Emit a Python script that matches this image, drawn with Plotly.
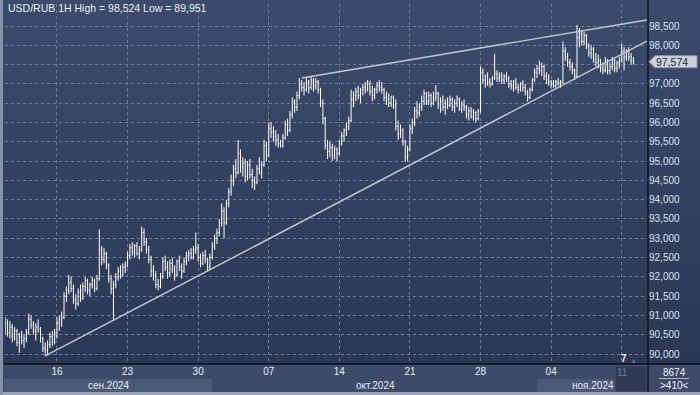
import plotly.graph_objects as go
import pandas as pd

# ---------------- data ----------------
symbol_title = "USD/RUB 1H"
x_tick_dates = ["2024-09-16", "2024-09-23", "2024-09-30", "2024-10-07", "2024-10-14",
                "2024-10-21", "2024-10-28", "2024-11-04", "2024-11-11"]
x_tick_labels = ["16", "23", "30", "07", "14", "21", "28", "04", ""]
month_labels = ["сен.2024", "окт.2024", "ноя.2024"]
y_tick_values = list(range(90000, 98501, 500))
footer_count = "8674"
footer_marker = ">410<"
corner_day = "11"
corner_mark = "7"

# 4-hour bars, Sep 10 08:00 .. Nov 11 20:00 (weekends excluded)
opens = [
    90700, 90800, 90550, 90700,
    90450, 90600, 90300, 90450, 90350, 90400,
    90550, 90900, 90750, 90600, 90700, 90650,
    90400, 90150, 90100, 90250, 90450, 90300,
    90550, 90800, 90900, 90950, 91500, 91650,
    91850, 91700, 91400, 91300, 91600, 91450,
    91750, 91900, 91650, 91800, 91900, 91700,
    91950, 92700, 92450, 92600, 92300, 91950,
    91700, 91800, 92000, 92150, 92050, 92250,
    92300, 92550, 92750, 92650, 92800, 92600,
    92700, 93150, 92900, 92700, 92450, 92150,
    92050, 91800, 91750, 92000, 92400, 92250,
    92100, 92350, 92200, 92050, 92400, 92250,
    92150, 92400, 92550, 92600, 92500, 92700,
    92750, 92500, 92350, 92550, 92450, 92250,
    92500, 92800, 93000, 93150, 93400, 93700,
    93400, 93900, 94200, 94500, 94800, 94700,
    95200, 94850, 94950, 94600, 94900, 94650,
    94500, 94450, 94800, 94700, 94900, 95400,
    95150, 95850, 95750, 95650, 95550, 95450,
    95400, 95600, 95950, 95800, 96200, 96550,
    96400, 96700, 97000, 96900, 96850, 97050,
    96900, 97100, 96950, 97050, 96850, 96500,
    96100, 95400, 95250, 95350, 95150, 95300,
    95200, 95450, 95650, 95800, 95900, 96050,
    96600, 96700, 96800, 96700, 96850, 96900,
    96850, 97000, 96800, 96700, 96850, 96950,
    96900, 96850, 96650, 96600, 96500, 96650,
    96450, 95900, 95700, 95800, 95500, 95100,
    95300, 95850, 96000, 96300, 96250, 96400,
    96550, 96750, 96550, 96700, 96500, 96650,
    96750, 96450, 96550, 96400, 96500, 96450,
    96600, 96400, 96500, 96600, 96350, 96450,
    96400, 96200, 96300, 96150, 96250, 96100,
    96300, 97300, 97100, 97200, 97050, 97000,
    97150, 97250, 97150, 97200, 97100, 97200,
    97150, 97000, 96950, 97050, 96900, 96850,
    97000, 96900, 96800, 96650, 96850, 97100,
    97300, 97400, 97350, 97450, 97200, 97100,
    97050, 97000, 96950, 97050, 97000, 97050,
    97850, 97700, 97550, 97450, 97350, 97200,
    98200, 98300, 98100, 98250, 98000, 97800,
    97900, 97650, 97550, 97600, 97400, 97350,
    97600, 97350, 97450, 97600, 97400, 97550,
    97600, 97850, 97700, 97850, 97700, 97600,
]
highs = [
    90950, 90900, 90850, 90780,
    90700, 90650, 90550, 90600, 90500, 90650,
    91050, 91000, 90850, 90800, 90900, 90700,
    90450, 90300, 90350, 90550, 90600, 90650,
    90950, 91000, 91100, 91600, 91750, 92050,
    92000, 91800, 91550, 91700, 91800, 91850,
    92000, 91950, 91850, 92000, 91950, 92050,
    93230, 92800, 92750, 92650, 92350, 92050,
    91900, 92100, 92250, 92300, 92350, 92400,
    92650, 92850, 92900, 92850, 92900, 92800,
    93300, 93250, 93000, 92800, 92550, 92300,
    92150, 91950, 92100, 92500, 92550, 92400,
    92450, 92500, 92300, 92450, 92550, 92350,
    92500, 92650, 92700, 92750, 92800, 93150,
    92850, 92600, 92650, 92700, 92500, 92600,
    92900, 93100, 93250, 93500, 93900, 93800,
    94000, 94300, 94650, 94900, 95050, 95550,
    95300, 95100, 95050, 95000, 95050, 94800,
    94600, 94900, 95100, 95000, 95550, 95500,
    96000, 96000, 95900, 95800, 95700, 95550,
    95700, 96050, 96100, 96300, 96650, 96600,
    96800, 97150, 97100, 97050, 97150, 97100,
    97190, 97150, 97150, 97100, 96900, 96600,
    96150, 95550, 95500, 95450, 95400, 95350,
    95550, 95750, 95850, 96000, 96150, 96850,
    96800, 96900, 96950, 96900, 97000, 97050,
    97100, 97080, 96950, 96900, 97050, 97100,
    97050, 96900, 96800, 96750, 96700, 96700,
    96600, 96050, 95950, 95850, 95550, 95400,
    95950, 96100, 96400, 96550, 96500, 96700,
    96850, 96800, 96800, 96750, 96800, 96970,
    96800, 96650, 96700, 96600, 96650, 96700,
    96650, 96600, 96700, 96650, 96550, 96600,
    96450, 96400, 96400, 96350, 96300, 96350,
    97450, 97400, 97250, 97300, 97150, 97200,
    97780, 97350, 97300, 97300, 97250, 97300,
    97200, 97100, 97100, 97150, 97000, 97050,
    97100, 97000, 96850, 96900, 97150, 97400,
    97500, 97600, 97550, 97500, 97300, 97250,
    97100, 97100, 97100, 97150, 97100, 98100,
    97950, 97800, 97650, 97550, 97400, 98524,
    98450, 98400, 98350, 98300, 98050, 98000,
    97950, 97800, 97750, 97650, 97550, 97700,
    97650, 97550, 97700, 97650, 97600, 97700,
    98050, 97950, 97900, 97950, 97800, 97700,
]
lows = [
    90500, 90450, 90400, 90300,
    90350, 90200, 90030, 90250, 90150, 90300,
    90500, 90650, 90500, 90350, 90550, 90300,
    90050, 89951, 90000, 90150, 90200, 90250,
    90400, 90600, 90700, 90900, 91350, 91550,
    91600, 91300, 91150, 91250, 91350, 91400,
    91600, 91550, 91500, 91700, 91600, 91650,
    91900, 92300, 92350, 92200, 91850, 91550,
    90890, 91700, 91900, 91950, 92000, 92100,
    92250, 92450, 92550, 92500, 92550, 92450,
    92650, 92800, 92600, 92350, 92000, 91900,
    91700, 91650, 91700, 91950, 92150, 91950,
    92000, 92100, 91900, 92000, 92150, 91950,
    92100, 92300, 92400, 92450, 92450, 92600,
    92400, 92250, 92300, 92350, 92150, 92200,
    92450, 92700, 92850, 93050, 93300, 93000,
    93350, 93800, 94100, 94350, 94550, 94650,
    94700, 94600, 94450, 94500, 94550, 94300,
    94250, 94400, 94650, 94550, 94850, 95000,
    95100, 95600, 95500, 95400, 95350, 95350,
    95350, 95550, 95650, 95750, 96100, 96250,
    96300, 96600, 96800, 96700, 96800, 96750,
    96850, 96800, 96850, 96750, 96400, 95950,
    95300, 95050, 95100, 95000, 95050, 95000,
    95150, 95400, 95500, 95650, 95800, 96000,
    96400, 96550, 96600, 96500, 96700, 96750,
    96800, 96700, 96550, 96600, 96750, 96800,
    96750, 96550, 96450, 96400, 96400, 96350,
    95800, 95550, 95600, 95400, 94970, 95000,
    95250, 95700, 95900, 96100, 96150, 96300,
    96450, 96450, 96450, 96400, 96450, 96550,
    96350, 96250, 96300, 96200, 96350, 96400,
    96300, 96250, 96400, 96300, 96250, 96300,
    96100, 96050, 96100, 96050, 96000, 96050,
    96250, 97000, 96900, 96950, 96900, 96950,
    97100, 97050, 97050, 97000, 97000, 97050,
    96900, 96850, 96800, 96850, 96750, 96800,
    96800, 96700, 96540, 96600, 96800, 97050,
    97150, 97250, 97200, 97100, 97000, 96950,
    96900, 96900, 96900, 96950, 96900, 97000,
    97600, 97450, 97350, 97250, 97100, 97150,
    97950, 98000, 98000, 97900, 97700, 97650,
    97550, 97450, 97400, 97300, 97250, 97300,
    97250, 97250, 97350, 97300, 97300, 97400,
    97550, 97350, 97600, 97600, 97500, 97500,
]
closes = [
    90800, 90550, 90700, 90450,
    90600, 90300, 90450, 90350, 90400, 90550,
    90900, 90750, 90600, 90700, 90650, 90400,
    90150, 90100, 90250, 90450, 90300, 90550,
    90800, 90900, 90950, 91500, 91650, 91850,
    91700, 91400, 91300, 91600, 91450, 91750,
    91900, 91650, 91800, 91900, 91700, 91950,
    92700, 92450, 92600, 92300, 91950, 91700,
    91800, 92000, 92150, 92050, 92250, 92300,
    92550, 92750, 92650, 92800, 92600, 92700,
    93150, 92900, 92700, 92450, 92150, 92050,
    91800, 91750, 92000, 92400, 92250, 92100,
    92350, 92200, 92050, 92400, 92250, 92150,
    92400, 92550, 92600, 92500, 92700, 92750,
    92500, 92350, 92550, 92450, 92250, 92500,
    92800, 93000, 93150, 93400, 93700, 93400,
    93900, 94200, 94500, 94800, 94700, 95200,
    94850, 94950, 94600, 94900, 94650, 94500,
    94450, 94800, 94700, 94900, 95400, 95150,
    95850, 95750, 95650, 95550, 95450, 95400,
    95600, 95950, 95800, 96200, 96550, 96400,
    96700, 97000, 96900, 96850, 97050, 96900,
    97100, 96950, 97050, 96850, 96500, 96100,
    95400, 95250, 95350, 95150, 95300, 95200,
    95450, 95650, 95800, 95900, 96050, 96600,
    96700, 96800, 96700, 96850, 96900, 96850,
    97000, 96800, 96700, 96850, 96950, 96900,
    96850, 96650, 96600, 96500, 96650, 96450,
    95900, 95700, 95800, 95500, 95100, 95300,
    95850, 96000, 96300, 96250, 96400, 96550,
    96750, 96550, 96700, 96500, 96650, 96750,
    96450, 96550, 96400, 96500, 96450, 96600,
    96400, 96500, 96600, 96350, 96450, 96400,
    96200, 96300, 96150, 96250, 96100, 96300,
    97300, 97100, 97200, 97050, 97000, 97150,
    97250, 97150, 97200, 97100, 97200, 97150,
    97000, 96950, 97050, 96900, 96850, 97000,
    96900, 96800, 96650, 96850, 97100, 97300,
    97400, 97350, 97450, 97200, 97100, 97050,
    97000, 96950, 97050, 97000, 97050, 97850,
    97700, 97550, 97450, 97350, 97200, 98200,
    98300, 98100, 98250, 98000, 97800, 97900,
    97650, 97550, 97600, 97400, 97350, 97600,
    97350, 97450, 97600, 97400, 97550, 97600,
    97850, 97700, 97850, 97700, 97600, 97574,
]

# trend lines (wedge)
upper_trend_x = ["2024-10-09 08:24", "2024-11-12 18:40"]
upper_trend_y = [97153, 98655]
lower_trend_x = ["2024-09-13 04:00", "2024-11-12 18:40"]
lower_trend_y = [89951, 98111]

# ---------------- timestamps ----------------
trading_days = pd.bdate_range("2024-09-10", "2024-11-11")
times = []
for i, day in enumerate(trading_days):
    hours = [8, 12, 16, 20] if i == 0 else [0, 4, 8, 12, 16, 20]
    for h in hours:
        times.append(day + pd.Timedelta(hours=h))
n = min(len(times), len(opens), len(highs), len(lows), len(closes))
times = times[:n]

# ---------------- layout helpers ----------------
W, H = 700, 395
ML, MR, MT, MB = 5, 52, 4, 31
PW, PH = W - ML - MR, H - MT - MB
Y_LO, Y_HI = 89741, 99070


def px(X):
    return (X - ML) / PW


def py(Y):
    return (H - MB - Y) / PH


FONT = "Liberation Sans, Arial, sans-serif"
last = closes[n - 1]

# y tick texts (the one hidden under the last-price tag is left blank)
y_tick_text = ["" if abs(v - last) < 200 else f"{v:,}" for v in y_tick_values]

fig = go.Figure()
fig.add_trace(go.Ohlc(
    x=times, open=opens[:n], high=highs[:n], low=lows[:n], close=closes[:n],
    increasing_line_color="#ffffff", decreasing_line_color="#ffffff",
    line_width=1, tickwidth=0.35, hoverinfo="skip", showlegend=False,
))
fig.add_trace(go.Scatter(x=upper_trend_x, y=upper_trend_y, mode="lines",
                         line=dict(color="#c4c8d0", width=1.4), hoverinfo="skip",
                         showlegend=False))
fig.add_trace(go.Scatter(x=lower_trend_x, y=lower_trend_y, mode="lines",
                         line=dict(color="#c4c8d0", width=1.4), hoverinfo="skip",
                         showlegend=False))

shapes = []
# vertical background gradient
top_rgb = (60, 75, 107)
bot_rgb = (43, 56, 85)
nb = 30
for k in range(nb):
    t = k / (nb - 1)
    c = tuple(int(round(top_rgb[j] + (bot_rgb[j] - top_rgb[j]) * t)) for j in range(3))
    y_top = k * (H - MB) / nb
    y_bot = (k + 1) * (H - MB) / nb + 0.6
    shapes.append(dict(type="rect", xref="paper", yref="paper",
                       x0=px(0), x1=px(W), y0=py(y_bot), y1=py(y_top),
                       fillcolor="rgb(%d,%d,%d)" % c, line_width=0, layer="below"))
# bottom axis area
shapes.append(dict(type="rect", xref="paper", yref="paper", x0=px(0), x1=px(W),
                   y0=py(H), y1=py(H - MB), fillcolor="#3e4b68", line_width=0, layer="below"))
# month bands (lighter for Sep and Nov)
shapes.append(dict(type="rect", xref="paper", yref="paper", x0=px(4), x1=px(212),
                   y0=py(392), y1=py(379), fillcolor="#4b5977", line_width=0, layer="below"))
shapes.append(dict(type="rect", xref="paper", yref="paper", x0=px(537), x1=px(615),
                   y0=py(392), y1=py(379), fillcolor="#4b5977", line_width=0, layer="below"))
# dark box for current day
shapes.append(dict(type="rect", xref="paper", yref="paper", x0=px(615), x1=px(647),
                   y0=py(392), y1=py(366), fillcolor="#2f3a55",
                   line=dict(color="#46526d", width=1), layer="below"))
# bottom-right box
shapes.append(dict(type="rect", xref="paper", yref="paper", x0=px(648), x1=px(W),
                   y0=py(392), y1=py(H - MB), fillcolor="#3e4b68", line_width=0, layer="below"))
shapes.append(dict(type="line", xref="paper", yref="paper", x0=px(659), x1=px(689),
                   y0=py(378.5), y1=py(378.5), line=dict(color="#aeb7c8", width=1), layer="below"))
# bottom & left frame
shapes.append(dict(type="rect", xref="paper", yref="paper", x0=px(0), x1=px(W),
                   y0=py(H), y1=py(392), fillcolor="#9aa4b6", line_width=0, layer="below"))
shapes.append(dict(type="rect", xref="paper", yref="paper", x0=px(0), x1=px(3),
                   y0=py(H), y1=py(0), fillcolor="#8892a6", line_width=0, layer="below"))
# black separators
shapes.append(dict(type="line", xref="paper", yref="paper", x0=px(648), x1=px(648),
                   y0=py(392), y1=py(0), line=dict(color="#0a0f1a", width=1.3), layer="above"))
shapes.append(dict(type="line", xref="paper", yref="paper", x0=px(4), x1=px(W),
                   y0=py(H - MB), y1=py(H - MB), line=dict(color="#0a0f1a", width=1.3), layer="above"))
# last price tag
half = 6 / PH * (Y_HI - Y_LO)
shapes.append(dict(type="path", xref="paper", yref="y",
                   path="M %f,%f L %f,%f L %f,%f L %f,%f L %f,%f Z" % (
                       px(649), last, px(655), last + half, px(697), last + half,
                       px(697), last - half, px(655), last - half),
                   fillcolor="#cdd2da", line=dict(color="#9098a8", width=1), layer="above"))

annotations = [
    dict(x=px(6), y=py(8), xref="paper", yref="paper", xanchor="left", yanchor="middle",
         text="%s High = %s Low = %s" % (symbol_title, f"{max(highs):,}", f"{min(lows):,}"),
         showarrow=False, font=dict(family=FONT, size=10.5, color="#e8edf5")),
    dict(x=px(654), y=last, xref="paper", yref="y", xanchor="left", yanchor="middle",
         text=f"{last:,}", showarrow=False, font=dict(family=FONT, size=10.5, color="#1c2840")),
    dict(x=px(109), y=py(385.5), xref="paper", yref="paper", xanchor="center", yanchor="middle",
         text=month_labels[0], showarrow=False, font=dict(family=FONT, size=10, color="#e4eaf4")),
    dict(x=px(375), y=py(385.5), xref="paper", yref="paper", xanchor="center", yanchor="middle",
         text=month_labels[1], showarrow=False, font=dict(family=FONT, size=10, color="#e4eaf4")),
    dict(x=px(593), y=py(385.5), xref="paper", yref="paper", xanchor="center", yanchor="middle",
         text=month_labels[2], showarrow=False, font=dict(family=FONT, size=10, color="#e4eaf4")),
    dict(x=px(622), y=py(373), xref="paper", yref="paper", xanchor="center", yanchor="middle",
         text=corner_day, showarrow=False, font=dict(family=FONT, size=10, color="#6f7b95")),
    dict(x=px(624), y=py(358), xref="paper", yref="paper", xanchor="center", yanchor="middle",
         text="<b>%s</b>" % corner_mark, showarrow=False, font=dict(family=FONT, size=10, color="#e8edf5")),
    dict(x=px(633), y=py(360), xref="paper", yref="paper", xanchor="center", yanchor="middle",
         text="▲", showarrow=False, font=dict(family=FONT, size=7, color="#5e6a84")),
    dict(x=px(674), y=py(372.5), xref="paper", yref="paper", xanchor="center", yanchor="middle",
         text=footer_count, showarrow=False, font=dict(family=FONT, size=10, color="#eef2f8")),
    dict(x=px(674), y=py(385), xref="paper", yref="paper", xanchor="center", yanchor="middle",
         text=footer_marker, showarrow=False, font=dict(family=FONT, size=10, color="#eef2f8")),
]

grid_color = "#6d7c9a"
fig.update_layout(
    width=W, height=H,
    margin=dict(l=ML, r=MR, t=MT, b=MB, pad=0),
    paper_bgcolor="#34425f",
    plot_bgcolor="rgba(0,0,0,0)",
    showlegend=False,
    hovermode=False,
    shapes=shapes,
    annotations=annotations,
    font=dict(family=FONT, size=10, color="#e4eaf4"),
    xaxis=dict(
        type="date",
        range=["2024-09-10 07:40", "2024-11-12 20:40"],
        rangebreaks=[dict(bounds=["sat", "mon"])],
        rangeslider=dict(visible=False),
        tickmode="array", tickvals=x_tick_dates, ticktext=x_tick_labels,
        showgrid=True, gridcolor=grid_color, griddash="3px,3px", gridwidth=1,
        showline=False, zeroline=False, ticks="",
        tickfont=dict(family=FONT, size=10, color="#e8edf5"),
        fixedrange=True,
    ),
    yaxis=dict(
        side="right",
        range=[Y_LO, Y_HI],
        tickmode="array", tickvals=y_tick_values, ticktext=y_tick_text,
        showgrid=True, gridcolor=grid_color, griddash="3px,3px", gridwidth=1,
        showline=False, zeroline=False, ticks="",
        tickfont=dict(family=FONT, size=10, color="#d6e0f2"),
        fixedrange=True,
    ),
)

fig.write_html(
    "out.html",
    config={"displayModeBar": False, "staticPlot": True},
    post_script="document.body.style.margin='0';document.body.style.overflow='hidden';",
)
